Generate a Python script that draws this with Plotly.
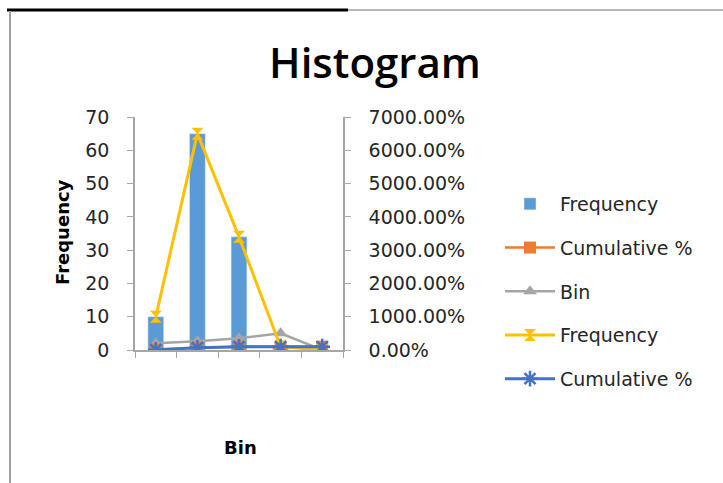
import plotly.graph_objects as go

bins = ["1", "2", "3", "4", "More"]
frequency = [10, 65, 34, 1, 0]
cumulative_pct = [0.0909, 0.6818, 0.9909, 1.0, 1.0]
bin_values = [2, 2.6, 3.5, 5, 0]
freq_line = [10, 65, 34, 1, 0]
cum_line = [0.0909, 0.6818, 0.9909, 1.0, 1.0]

W, H = 723, 483
L, R, T, B = 135, 343, 117, 350  # plot-area pixels

def px(x):
    return (x - L) / (R - L)

def py(y):
    return (B - y) / (B - T)

font = "DejaVu Sans"
txt = "#262626"

fig = go.Figure()
fig.add_trace(go.Bar(x=bins, y=frequency, name="Frequency", marker_color="#5B9BD5",
                     legendgroup="a"))
fig.add_trace(go.Scatter(x=bins, y=cumulative_pct, name="Cumulative %", mode="lines+markers",
                         line=dict(color="#ED7D31", width=2.5),
                         marker=dict(symbol="square", size=12, color="#ED7D31"),
                         yaxis="y2", legendgroup="b"))
fig.add_trace(go.Scatter(x=bins, y=bin_values, name="Bin", mode="lines+markers",
                         line=dict(color="#A5A5A5", width=2.5),
                         marker=dict(symbol="triangle-up", size=12, color="#A5A5A5"),
                         legendgroup="c"))
fig.add_trace(go.Scatter(x=bins, y=freq_line, name="Frequency", mode="lines+markers",
                         line=dict(color="#FFC000", width=3),
                         marker=dict(symbol="hourglass", size=12, color="#FFC000"),
                         yaxis="y2", legendgroup="d"))
fig.add_trace(go.Scatter(x=bins, y=cum_line, name="Cumulative %", mode="lines+markers",
                         line=dict(color="#4472C4", width=3),
                         marker=dict(symbol="asterisk", size=13, color="#4472C4",
                                     line=dict(color="#4472C4", width=2.5)),
                         yaxis="y2", legendgroup="e"))

axis_common = dict(showgrid=False, zeroline=False, showline=True, linecolor="#A6A6A6",
                   linewidth=1.5, ticks="outside", tickcolor="#A6A6A6", ticklen=6,
                   ticklabelstandoff=14,
                   tickfont=dict(family=font, size=19, color=txt))

fig.update_layout(
    width=W, height=H,
    margin=dict(l=L, r=W - R, t=T, b=H - B),
    paper_bgcolor="white", plot_bgcolor="white",
    bargap=0.62,
    showlegend=True,
    legend=dict(x=px(500), y=py(185), xanchor="left", yanchor="top",
                font=dict(family=font, size=19, color=txt),
                traceorder="grouped", tracegroupgap=16, itemwidth=50,
                bgcolor="rgba(0,0,0,0)"),
    title=dict(text="Histogram", x=375 / W, xref="container", xanchor="center",
               y=1 - 63 / H, yref="container", yanchor="middle",
               font=dict(family="Open Sans", size=42, color="#000000", weight=600)),
    xaxis=dict(showgrid=False, zeroline=False, showline=True, linecolor="#A6A6A6",
               linewidth=1.5, ticks="outside", tickcolor="#A6A6A6", ticklen=6,
               tickson="boundaries", showticklabels=False),
    yaxis=dict(range=[0, 70], dtick=10, **axis_common),
    yaxis2=dict(range=[0, 70], dtick=10, overlaying="y", side="right",
                tickformat=".2%", **axis_common),
)

fig.add_annotation(text="<b>Frequency</b>", xref="paper", yref="paper",
                   x=px(62), y=py(232), xanchor="center", yanchor="middle",
                   textangle=-90, showarrow=False,
                   font=dict(family=font, size=18, color="#000000"))
fig.add_annotation(text="<b>Bin</b>", xref="paper", yref="paper",
                   x=px(240), y=py(447), xanchor="center", yanchor="middle",
                   showarrow=False,
                   font=dict(family=font, size=18, color="#000000"))

# frame lines of the embedded chart
fig.add_shape(type="line", xref="paper", yref="paper", x0=px(7), x1=px(348),
              y0=py(10), y1=py(10), line=dict(color="#000000", width=3))
fig.add_shape(type="line", xref="paper", yref="paper", x0=px(348), x1=px(723),
              y0=py(10), y1=py(10), line=dict(color="#A0A0A0", width=1.5))
fig.add_shape(type="line", xref="paper", yref="paper", x0=px(10), x1=px(10),
              y0=py(11), y1=py(483), line=dict(color="#A0A0A0", width=2))

fig.write_html("out.html")
